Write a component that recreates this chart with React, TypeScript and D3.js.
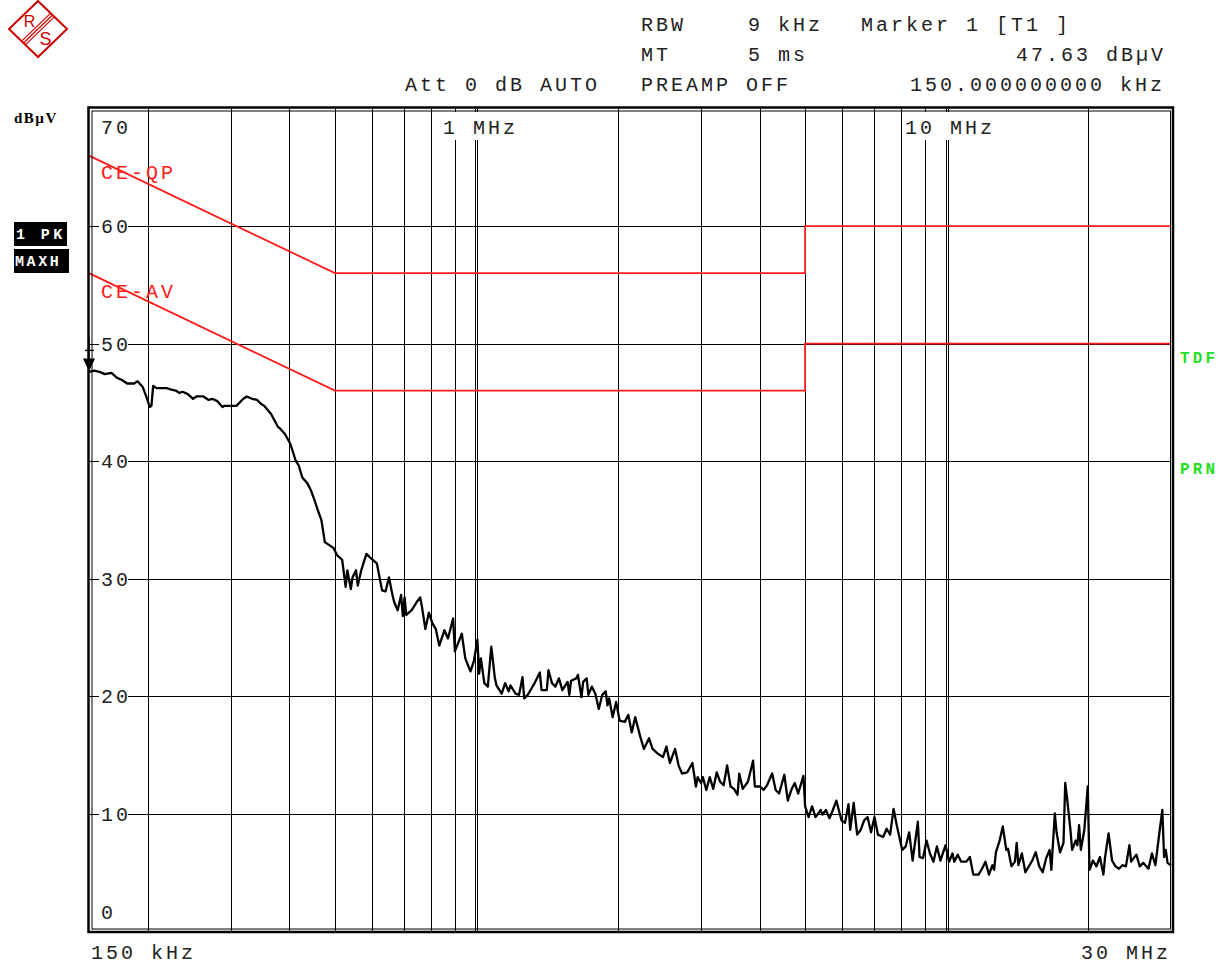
import React from 'react';
import * as d3 from 'd3';

// ---- Instrument sweep definition ----
const F_START = 150e3;
const F_STOP = 30e6;
const SWEEP_POINTS = 625;

// ---- Axis ----
const yTicks = [70, 60, 50, 40, 30, 20, 10, 0];
const gridFreqs = [200e3, 300e3, 400e3, 500e3, 600e3, 700e3, 800e3, 900e3, 1e6, 2e6, 3e6, 4e6, 5e6, 6e6, 7e6, 8e6, 9e6, 10e6, 20e6];
const decadeFreqs = [1e6, 10e6];
const decadeLabels = ['1 MHz', '10 MHz'];

// ---- Limit lines ----
const qpLimitFreq = [150e3, 500e3, 5e6, 5e6, 30e6];
const qpLimitLevel = [66, 56, 56, 60, 60];
const avLimitFreq = [150e3, 500e3, 5e6, 5e6, 30e6];
const avLimitLevel = [56, 46, 46, 50, 50];

// ---- Trace 1 (PK, MAXH): sweep point index and level in dBµV ----
const tracePoint = [0,3,6,9,13,16,19,22,26,28,31,33,35,36,37,39,45,47,50,52,54,57,60,62,66,69,71,74,77,78,85,89,91,94,97,99,101,105,109,110,113,116,118,119,121,123,126,128,130,132,134,136,139,141,143,146,148,149,151,152,154,155,157,160,162,166,169,171,173,175,176,178,180,181,182,183,186,189,191,192,194,196,198,200,202,205,207,210,211,215,217,220,222,224,225,226,228,230,232,234,235,238,240,242,243,246,248,250,251,253,255,257,260,261,264,265,267,269,271,273,276,277,278,281,282,284,285,287,288,290,292,294,296,298,299,300,302,304,306,309,311,313,315,318,320,323,325,328,331,333,335,338,340,342,345,348,350,351,353,354,356,358,360,362,364,366,368,370,372,374,375,377,380,383,384,387,389,391,394,396,398,401,403,405,407,409,412,413,415,417,419,422,423,425,427,429,431,434,436,438,439,441,443,445,447,449,451,453,455,458,460,462,464,466,469,471,473,475,478,479,481,483,485,487,489,491,494,496,498,499,501,503,506,508,510,513,515,517,519,521,522,523,525,527,529,530,532,534,535,536,538,540,542,544,546,548,550,552,554,555,557,558,560,562,563,564,566,567,569,570,571,572,574,576,577,579,581,583,585,586,588,590,592,594,596,598,600,601,604,606,608,611,613,615,617,619,620,621,622,624];
const traceLevel = [47.6,47.7,47.6,47.4,47.5,47.1,46.9,46.6,46.6,46.8,46.3,45.5,44.6,44.7,46.4,46.2,46.2,46.1,46.0,45.8,45.9,45.7,45.3,45.5,45.5,45.2,45.3,45.1,44.6,44.7,44.7,45.3,45.5,45.3,45.2,44.9,44.7,44.0,42.9,42.8,42.3,41.5,40.6,40.1,39.6,38.6,38.1,37.5,36.7,35.8,35.0,33.1,32.8,32.6,32.0,31.6,29.3,30.7,29.1,30.1,30.7,29.4,30.7,32.1,31.8,31.3,29.0,28.9,30.1,28.6,28.0,27.3,28.6,26.8,28.4,26.9,27.3,28.0,28.4,27.6,25.7,27.1,26.2,25.7,24.3,25.6,24.9,26.6,23.8,25.3,23.2,22.1,23.0,24.8,21.9,23.2,21.1,20.8,24.2,21.6,20.9,20.2,21.1,20.4,20.9,20.2,20.1,21.6,19.8,20.1,20.6,21.1,22.0,20.5,20.5,22.2,21.1,20.8,21.5,20.5,21.2,20.1,21.3,21.5,21.8,19.9,21.2,21.5,20.1,20.8,20.2,18.9,20.1,20.4,19.2,19.8,18.2,19.5,17.9,17.8,18.4,16.9,18.2,16.5,15.5,16.4,15.5,15.1,14.8,15.7,14.3,15.5,14.1,13.4,13.5,14.3,12.3,13.1,12.6,13.1,12.0,13.1,12.1,13.5,12.7,12.4,14.1,12.3,12.1,11.6,13.4,12.1,12.7,14.5,12.3,12.3,12.0,12.4,13.4,12.0,11.7,13.3,11.1,12.0,12.6,11.7,13.2,10.6,9.7,10.6,9.7,10.3,9.9,10.3,9.6,10.3,11.1,9.4,9.2,10.8,8.6,10.9,8.2,8.6,9.4,9.7,8.4,9.7,8.2,8.0,8.7,8.2,10.4,8.9,6.9,7.2,8.4,6.0,9.3,6.3,6.2,7.7,6.6,5.9,7.2,6.0,7.3,5.9,6.6,5.9,6.5,5.9,5.9,6.3,4.8,4.8,5.3,5.9,4.8,5.6,5.2,6.7,7.6,8.9,6.9,7.0,5.5,5.9,7.5,5.6,6.6,5.0,5.5,6.0,6.7,5.5,5.0,6.2,6.9,5.2,10.0,8.4,6.7,7.5,12.6,11.4,8.6,6.9,7.7,7.3,9.0,6.9,8.6,12.3,5.2,6.0,5.5,6.3,4.8,6.3,8.3,6.0,5.5,5.3,5.6,5.5,7.3,5.9,6.5,5.5,5.8,5.3,6.6,5.6,8.0,10.3,6.3,6.9,5.8,5.6];

const markerFreq = 150e3;
const markerLevel = 47.63;

const headerLines = [
  { a: 'RBW', b: '9 kHz', c: 'Marker 1 [T1 ]' },
  { a: 'MT', b: '5 ms', c: '47.63 dBµV' },
  { a: 'PREAMP OFF', b: 'Att 0 dB AUTO', c: '150.000000000 kHz' },
];

const MONO = "'Liberation Mono', 'Courier New', monospace";
const RED = '#ff1a1a';
const GREEN = '#22e022';

export default function App() {
  const x = d3.scaleLog().domain([F_START, F_STOP]).range([89, 1171]);
  const y = d3.scaleLinear().domain([0, 70]).range([931, 108.6]);
  const pointFreq = (p: number) => F_START * Math.pow(F_STOP / F_START, p / (SWEEP_POINTS - 1));
  const crisp = (v: number) => Math.round(v) + 0.5;

  const traceData = tracePoint.map((p, i) => [pointFreq(p), traceLevel[i]] as [number, number]);
  const line = d3.line<[number, number]>().x(d => x(d[0])).y(d => y(d[1]));
  const qpData = qpLimitFreq.map((f, i) => [f, qpLimitLevel[i]] as [number, number]);
  const avData = avLimitFreq.map((f, i) => [f, avLimitLevel[i]] as [number, number]);

  const txt = { fontFamily: MONO, fontSize: 20, letterSpacing: 3 } as React.CSSProperties;
  const top = y(70);
  const bottom = y(0);
  const mx = x(markerFreq);
  const my = y(markerLevel);

  return (
    <svg width={1226} height={965} style={{ position: 'absolute', left: 0, top: 0, background: '#fff' }}>
      <rect x={0} y={0} width={1226} height={965} fill="#fff" />
      {/* R&S logo */}
      <g stroke="#cc0000" fill="none">
        <polygon points="38,1 67,29 38,57 9,29" strokeWidth={2} />
        {[-2.6, 0, 2.6].map((o, i) => (
          <line key={i} x1={23.5 + o * 0.707} y1={43 + o * 0.707} x2={52.5 + o * 0.707} y2={15 + o * 0.707} strokeWidth={1.2} />
        ))}
      </g>
      <text x={29.5} y={27} fill="#cc0000" fontFamily="'Liberation Sans', Arial" fontSize={16} textAnchor="middle">R</text>
      <text x={45.5} y={45} fill="#cc0000" fontFamily="'Liberation Sans', Arial" fontSize={18} textAnchor="middle">S</text>

      {/* header */}
      <g style={txt} fill="#222">
        <text x={641} y={31}>{headerLines[0].a}</text>
        <text x={748} y={31}>{headerLines[0].b}</text>
        <text x={861} y={31}>{headerLines[0].c}</text>
        <text x={641} y={61}>{headerLines[1].a}</text>
        <text x={748} y={61}>{headerLines[1].b}</text>
        <text x={1166} y={61} textAnchor="end">{headerLines[1].c}</text>
        <text x={405} y={91}>{headerLines[2].b}</text>
        <text x={641} y={91}>{headerLines[2].a}</text>
        <text x={1165} y={91} textAnchor="end">{headerLines[2].c}</text>
      </g>

      {/* left side labels */}
      <text x={14} y={123} fontFamily="'Liberation Serif', serif" fontWeight="bold" fontSize={15} letterSpacing={1.5}>dBµV</text>
      <rect x={14} y={222} width={53} height={24} fill="#000" />
      <text x={16} y={239} fill="#fff" fontFamily={MONO} fontWeight="bold" fontSize={15} letterSpacing={3.4}>1 PK</text>
      <rect x={14} y={249} width={55} height={24} fill="#000" />
      <text x={15} y={266} fill="#fff" fontFamily={MONO} fontWeight="bold" fontSize={15} letterSpacing={2.6}>MAXH</text>

      {/* grid */}
      <g stroke="#000" strokeWidth={1}>
        {yTicks.filter(t => t > 0 && t < 70).map(t => (
          <line key={'h' + t} x1={89} x2={1171} y1={crisp(y(t))} y2={crisp(y(t))} />
        ))}
        {gridFreqs.filter(f => !decadeFreqs.includes(f)).map(f => (
          <line key={'v' + f} x1={crisp(x(f))} x2={crisp(x(f))} y1={top} y2={bottom} />
        ))}
        {decadeFreqs.map(f => (
          <g key={'d' + f}>
            <line x1={crisp(x(f)) - 1} x2={crisp(x(f)) - 1} y1={top} y2={bottom} />
            <line x1={crisp(x(f)) + 1} x2={crisp(x(f)) + 1} y1={top} y2={bottom} />
          </g>
        ))}
      </g>
      {/* label backgrounds */}
      {yTicks.filter(t => t > 0 && t < 70).map(t => (
        <rect key={'hb' + t} x={99} y={y(t) - 8} width={29} height={16} fill="#fff" />
      ))}
      {decadeFreqs.map((f, i) => (
        <rect key={'db' + f} x={x(f) - 34} y={112} width={i === 0 ? 75 : 90} height={28} fill="#fff" />
      ))}
      {/* y labels */}
      <g style={txt} fill="#222">
        {yTicks.map(t => (
          <text key={'yl' + t} x={101} y={t === 70 ? 134 : t === 0 ? 919 : y(t) + 7}>{t}</text>
        ))}
        {decadeFreqs.map((f, i) => (
          <text key={'dl' + f} x={i === 0 ? 443 : 905} y={134}>{decadeLabels[i]}</text>
        ))}
        <text x={91} y={959}>150 kHz</text>
        <text x={1171} y={959} textAnchor="end">30 MHz</text>
      </g>

      {/* limit lines */}
      <path d={line(qpData) || ''} fill="none" stroke={RED} strokeWidth={1.8} />
      <path d={line(avData) || ''} fill="none" stroke={RED} strokeWidth={1.8} />
      <text x={101} y={179} style={txt} fill={RED}>CE-QP</text>
      <text x={101} y={298} style={txt} fill={RED}>CE-AV</text>
      <text x={1180} y={363} fill={GREEN} fontFamily={MONO} fontWeight="bold" fontSize={16} letterSpacing={3.2}>TDF</text>
      <text x={1180} y={474} fill={GREEN} fontFamily={MONO} fontWeight="bold" fontSize={16} letterSpacing={3.2}>PRN</text>

      {/* trace */}
      <path d={line(traceData) || ''} fill="none" stroke="#000" strokeWidth={2.3} strokeLinejoin="round" />

      {/* frame */}
      <rect x={88.5} y={107.5} width={1084.5} height={824.5} fill="none" stroke="#000" strokeWidth={2.5} />
      <rect x={92} y={111} width={1078.5} height={818} fill="none" stroke="#000" strokeWidth={1} />

      {/* marker */}
      <g stroke="#000" strokeWidth={1.3}>
        <line x1={mx} x2={mx} y1={my - 34} y2={my - 12} />
        <line x1={mx - 4} x2={mx + 5} y1={my - 21} y2={my - 21} />
      </g>
      <polygon points={`${mx - 6},${my - 13} ${mx + 6},${my - 13} ${mx},${my}`} fill="#000" />
    </svg>
  );
}
